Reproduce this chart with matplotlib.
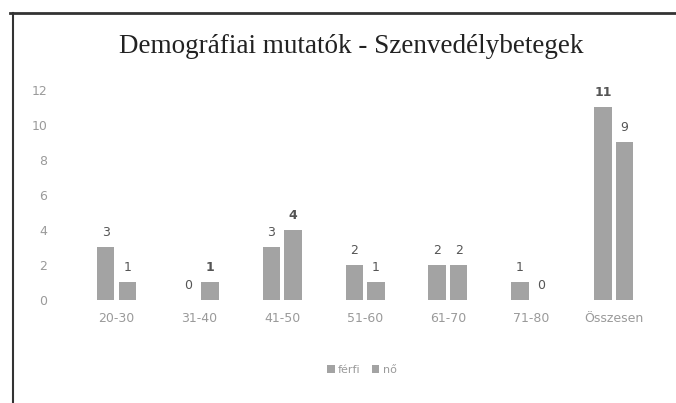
import matplotlib.pyplot as plt
from matplotlib.lines import Line2D

# adatok
korcsoportok = ['20-30', '31-40', '41-50', '51-60', '61-70', '71-80', 'Összesen']
ferfi = [3, 0, 3, 2, 2, 1, 11]
no = [1, 1, 4, 1, 2, 0, 9]

szin_oszlop = '#a3a3a3'
szin_felirat = '#9a9a9a'

fig = plt.figure(figsize=(6.76, 4.03), dpi=100)
ax = fig.add_axes([0.111, 0.256, 0.858, 0.521])

x = list(range(len(korcsoportok)))
w = 0.21
b1 = ax.bar([i - 0.13 for i in x], ferfi, w, color=szin_oszlop, label='férfi')
b2 = ax.bar([i + 0.13 for i in x], no, w, color=szin_oszlop, label='nő')

# értékcímkék
for i in x:
    ax.text(i - 0.13, ferfi[i] + 0.45, str(ferfi[i]), ha='center', va='bottom',
            fontsize=9, color='#555555', fontweight='bold' if ferfi[i] == 11 else 'normal')
    ax.text(i + 0.13, no[i] + 0.45, str(no[i]), ha='center', va='bottom',
            fontsize=9, color='#555555', fontweight='bold' if no[i] == 4 or i == 1 else 'normal')

ax.set_xlim(-0.5, 6.5)
ax.set_ylim(0, 12)
ax.set_yticks(range(0, 13, 2))
ax.set_xticks(x)
ax.set_xticklabels(korcsoportok)
ax.tick_params(axis='both', length=0, colors=szin_felirat, labelsize=9)
ax.tick_params(axis='x', pad=9)
ax.tick_params(axis='y', pad=20)
for s in ax.spines.values():
    s.set_visible(False)

fig.text(0.52, 0.885, 'Demográfiai mutatók - Szenvedélybetegek', ha='center', va='center',
         fontsize=19.5, family='Liberation Serif', color='#222222')

leg = fig.legend(handles=[b1, b2], loc='center', bbox_to_anchor=(0.535, 0.083), ncol=2,
                 frameon=False, fontsize=8, handlelength=0.7, handleheight=0.7,
                 handletextpad=0.3, columnspacing=1.0)
for t in leg.get_texts():
    t.set_color(szin_felirat)

# keret
fig.add_artist(Line2D([0.015, 1.0], [0.968, 0.968], color='#333333', lw=2))
fig.add_artist(Line2D([0.019, 0.019], [0.0, 0.968], color='#333333', lw=1.5))

fig.savefig('out.png', dpi=100)
